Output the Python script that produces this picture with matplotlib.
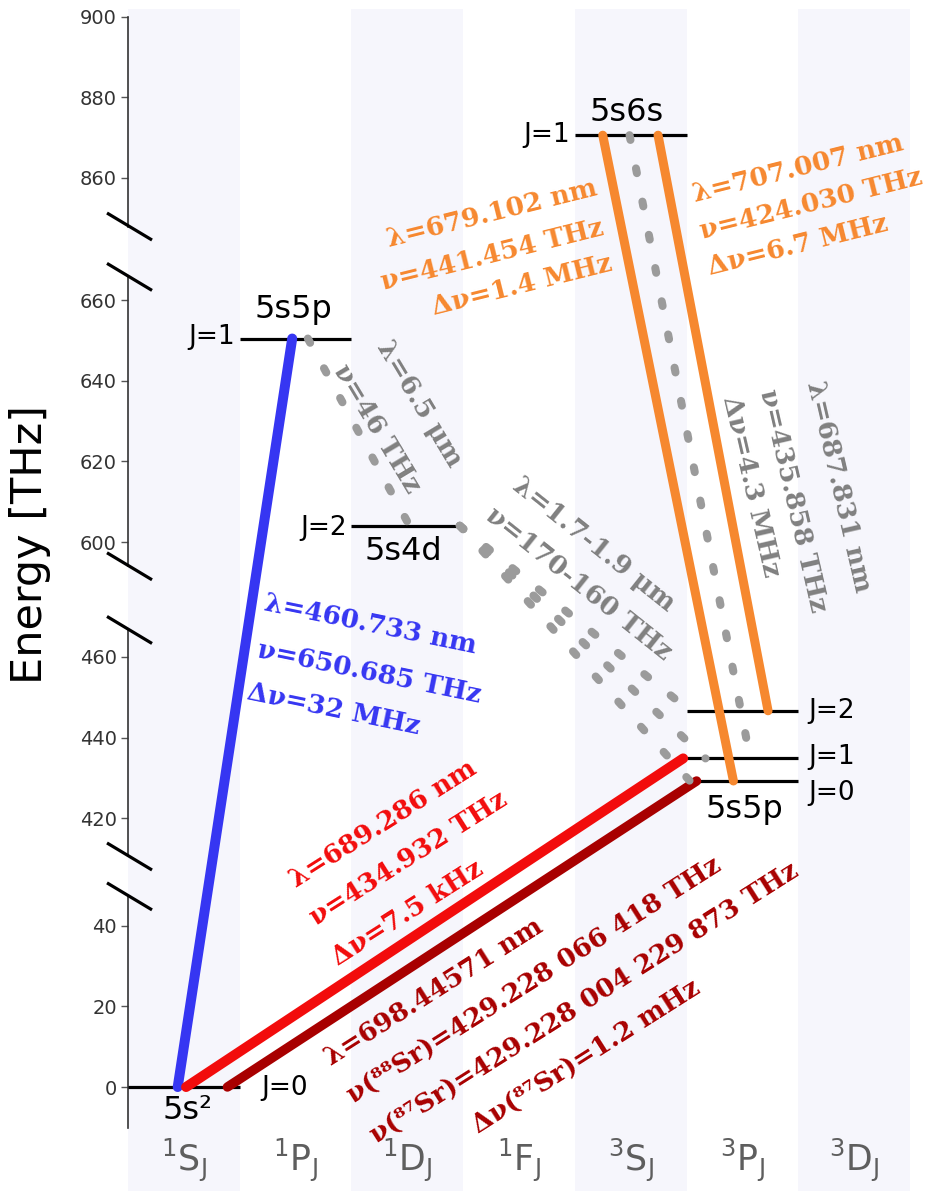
import numpy as np
import matplotlib
matplotlib.use('Agg')
import matplotlib.pyplot as plt
from matplotlib.transforms import blended_transform_factory

plt.rcParams['mathtext.fontset'] = 'dejavusans'

# ---------------- data ----------------
term_labels = [r'$^{1}$S$_{\mathrm{J}}$', r'$^{1}$P$_{\mathrm{J}}$', r'$^{1}$D$_{\mathrm{J}}$',
               r'$^{1}$F$_{\mathrm{J}}$', r'$^{3}$S$_{\mathrm{J}}$', r'$^{3}$P$_{\mathrm{J}}$',
               r'$^{3}$D$_{\mathrm{J}}$']
shaded_terms = [0, 2, 4, 6]

level_config = ['5s²', '5s5p', '5s4d', '5s6s', '5s5p', '5s5p', '5s5p']
level_col = [0, 1, 2, 4, 5, 5, 5]
level_J = [0, 1, 2, 1, 0, 1, 2]
level_E = [0.0, 650.503, 604.06, 870.56, 429.228, 434.829, 446.647]   # THz

yticks = [0, 20, 40, 420, 440, 460, 600, 620, 640, 660, 860, 880, 900]
axis_seg_lo = [-10.2, 410.5, 594.0, 847.9]
axis_seg_hi = [47.3, 466.7, 665.8, 900.0]
axis_breaks = [47.3, 410.5, 466.7, 594.0, 665.8, 847.9]

# transitions: start (column pos, energy) -> end (column pos, energy)
tr_x0 = [-0.055, 0.02, 0.39, 3.75, 4.245, 3.99, 1.11, 2.47, 2.47, 2.47]
tr_E0 = [0.0, 0.0, 0.0, 870.56, 870.56, 870.56, 650.503, 604.06, 604.06, 604.06]
tr_x1 = [0.97, 4.47, 4.59, 4.92, 5.23, 5.07, 2.02, 4.53, 4.67, 4.53]
tr_E1 = [650.503, 434.829, 429.228, 429.228, 446.647, 434.829, 604.06, 446.647, 434.829, 429.228]
tr_kind = ['blue', 'red', 'dred', 'orange', 'orange', 'gray', 'gray', 'gray', 'gray', 'gray']

colors = {'blue': '#3636f2', 'red': '#f20c0c', 'dred': '#a80000',
          'orange': '#f6882f', 'gray': '#9b9b9b'}
widths = {'blue': 7.2, 'red': 7.2, 'dred': 6.8, 'orange': 6.5, 'gray': 5.8}

# ---------------- broken energy scale ----------------
E_knots = [-100, 53, 406.5, 472, 590, 670, 844, 1000]
D_knots = [-100, 53, 53.2, 118.7, 125.2, 205.2, 209.6, 365.6]


def fwd(e):
    return np.interp(e, E_knots, D_knots)


def inv(d):
    return np.interp(d, D_knots, E_knots)


W, H = 945, 1191
fig = plt.figure(figsize=(W / 100, H / 100), dpi=100)
ax = fig.add_axes([128 / W, 0, 1 - 128 / W, 1])
ax.set_yscale('function', functions=(fwd, inv))
ax.set_ylim(-25.8, 904.1)
ax.set_xlim(-0.5, 6.814)
for s in ax.spines.values():
    s.set_visible(False)
ax.set_xticks([])
ax.set_yticks(yticks)
ax.set_yticklabels([str(t) for t in yticks])
ax.tick_params(axis='y', direction='out', length=5, width=1.0, color='#555555',
               labelsize=14, labelcolor='#333333', pad=3)

# column shading
for c in shaded_terms:
    ax.axvspan(c - 0.5, c + 0.5, ymin=0, ymax=1 - 9 / H, color='#f6f6fc', lw=0, zorder=0)

# broken axis line
for lo, hi in zip(axis_seg_lo, axis_seg_hi):
    ax.plot([-0.5, -0.5], [lo, hi], color='#333333', lw=1.2, clip_on=False, zorder=3)
for b in axis_breaks:
    ax.plot([-0.688, -0.285], [b + 3.35, b - 3.35], color='black', lw=2.3,
            clip_on=False, zorder=4, solid_capstyle='butt')

# term labels at bottom
tb = blended_transform_factory(ax.transData, fig.transFigure)
for i, lab in enumerate(term_labels):
    ax.text(i, 1 - 1160 / H, lab, transform=tb, ha='center', va='center',
            fontsize=25, color='#5e5e5e')

# levels
for c, E in zip(level_col, level_E):
    ax.plot([c - 0.5, c + 0.5], [E, E], color='black', lw=2.3, zorder=3,
            solid_capstyle='butt')

# transitions
for x0, E0, x1, E1, k in zip(tr_x0, tr_E0, tr_x1, tr_E1, tr_kind):
    if k == 'gray':
        ax.plot([x0, x1], [E0, E1], color=colors[k], lw=widths[k], zorder=4,
                linestyle=(0, (0.6, 3.6)), dash_capstyle='round')
    else:
        ax.plot([x0, x1], [E0, E1], color=colors[k], lw=widths[k], zorder=4,
                solid_capstyle='round')

# level labels (anchored to the levels)
def lvl(i, xoff_col, dx, dy, s, ha='center', size=19):
    ax.annotate(s, xy=(level_col[i] + xoff_col, level_E[i]), xytext=(dx, dy),
                textcoords='offset pixels', ha=ha, va='center', fontsize=size,
                color='black', zorder=6)

lvl(0, 0, 4, -23, level_config[0], size=23)
lvl(0, 0.5, 22, -1, 'J=%d' % level_J[0], ha='left')
lvl(1, 0, -2, 29, level_config[1], size=23)
lvl(1, -0.5, -5, 2, 'J=%d' % level_J[1], ha='right')
lvl(2, 0, -4, -26, level_config[2], size=23)
lvl(2, -0.5, -4, -2, 'J=%d' % level_J[2], ha='right')
lvl(3, 0, -4, 23, level_config[3], size=23)
lvl(3, -0.5, -5, 0, 'J=%d' % level_J[3], ha='right')
lvl(4, 0, 2, -29, level_config[4], size=23)
lvl(4, 0.5, 10, -12, 'J=%d' % level_J[4], ha='left')
lvl(5, 0.5, 10, 1, 'J=%d' % level_J[5], ha='left')
lvl(6, 0.5, 10, 0, 'J=%d' % level_J[6], ha='left')

fig.text(30 / W, 1 - 545 / H, 'Energy [THz]', rotation=90, ha='center', va='center',
         fontsize=31, color='black')

# transition annotations
def note(px, py, s, rot, color, ha='left', size=19):
    fig.text(px / W, 1 - py / H, s, rotation=rot, rotation_mode='anchor', ha=ha,
             va='center', color=color, fontsize=size, family='DejaVu Serif',
             weight='bold', zorder=7)

gtxt = '#808080'
# 679 nm (right aligned)
note(597, 187, 'λ=679.102 nm', 14, colors['orange'], ha='right')
note(603, 227, 'ν=441.454 THz', 14, colors['orange'], ha='right')
note(612, 263, 'Δν=1.4 MHz', 14, colors['orange'], ha='right')
# 707 nm
note(693, 195, 'λ=707.007 nm', 14, colors['orange'])
note(700, 232, 'ν=424.030 THz', 14, colors['orange'])
note(708, 268, 'Δν=6.7 MHz', 14, colors['orange'])
# 688 nm
note(814, 381, 'λ=687.831 nm', -77, gtxt)
note(767, 389, 'ν=435.858 THz', -77, gtxt)
note(730, 396, 'Δν=4.3 MHz', -77, gtxt)
# 6.5 um
note(383, 343, 'λ=6.5 μm', -59, gtxt)
note(339, 366, 'ν=46 THz', -59, gtxt)
# 1.7-1.9 um
note(516, 482, 'λ=1.7-1.9 μm', -38.5, gtxt)
note(489, 512, 'ν=170-160 THz', -38.5, gtxt)
# 461 nm
note(265, 603, 'λ=460.733 nm', -11.6, colors['blue'])
note(258, 650, 'ν=650.685 THz', -11.6, colors['blue'])
note(248, 692, 'Δν=32 MHz', -11.6, colors['blue'])
# 689 nm
note(292, 882, 'λ=689.286 nm', 32.4, colors['red'])
note(312, 920, 'ν=434.932 THz', 32.4, colors['red'])
note(334, 960, 'Δν=7.5 kHz', 32.4, colors['red'])
# 698 nm
note(327, 1060, 'λ=698.44571 nm', 32.4, colors['dred'])
note(350, 1098, 'ν(⁸⁸Sr)=429.228 066 418 THz', 32.4, colors['dred'])
note(373, 1138, 'ν(⁸⁷Sr)=429.228 004 229 873 THz', 32.4, colors['dred'])
note(475, 1128, 'Δν(⁸⁷Sr)=1.2 mHz', 32.4, colors['dred'])

fig.savefig('out.png', dpi=100)
